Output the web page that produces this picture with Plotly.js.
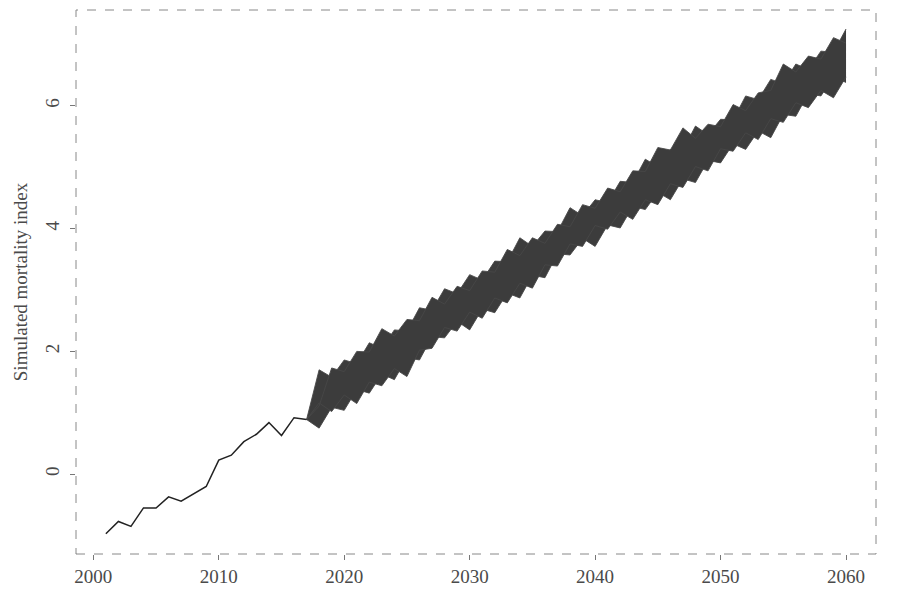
<!DOCTYPE html>
<html>
<head>
<meta charset="utf-8">
<script src="https://cdn.plot.ly/plotly-3.0.1.min.js"></script>
<style>
  html, body { margin: 0; padding: 0; background: #fff; }
  #chart { width: 900px; height: 596px; }
</style>
</head>
<body>
<div id="chart"></div>
<script>
// observed index, 2001-2017
var histYears = [2001, 2002, 2003, 2004, 2005, 2006, 2007, 2008, 2009, 2010, 2011, 2012, 2013, 2014, 2015, 2016, 2017];
var histIndex = [-0.97, -0.77, -0.85, -0.55, -0.55, -0.37, -0.44, -0.32, -0.20, 0.23, 0.31, 0.53, 0.65, 0.84, 0.63, 0.92, 0.89];

// simulated paths 2017-2060: the outermost strands of the bundle,
// two on top and two below, zig-zagging out of step with each other
var simYears = [2017, 2018, 2019, 2020, 2021, 2022, 2023, 2024, 2025, 2026, 2027, 2028, 2029, 2030, 2031,
  2032, 2033, 2034, 2035, 2036, 2037, 2038, 2039, 2040, 2041, 2042, 2043, 2044, 2045, 2046,
  2047, 2048, 2049, 2050, 2051, 2052, 2053, 2054, 2055, 2056, 2057, 2058, 2059, 2060];
var upperA = [0.89, 1.70, 1.58, 1.86, 1.80, 2.14, 2.05, 2.35, 2.33, 2.71, 2.67, 3.02, 2.94, 3.25, 3.16,
  3.47, 3.46, 3.85, 3.71, 3.96, 3.95, 4.34, 4.21, 4.47, 4.42, 4.77, 4.75, 5.13, 5.01, 5.29,
  5.28, 5.67, 5.53, 5.78, 5.77, 6.16, 6.10, 6.43, 6.36, 6.68, 6.59, 6.89, 6.87, 7.25];
var upperB = [0.89, 1.11, 1.73, 1.67, 2.00, 1.99, 2.37, 2.25, 2.52, 2.50, 2.88, 2.77, 3.06, 2.99, 3.31,
  3.29, 3.66, 3.56, 3.85, 3.76, 4.07, 4.03, 4.39, 4.33, 4.66, 4.60, 4.94, 4.93, 5.32, 5.28,
  5.64, 5.47, 5.70, 5.66, 6.02, 5.92, 6.21, 6.25, 6.68, 6.55, 6.81, 6.76, 7.11, 7.02];
var lowerA = [0.89, 0.75, 1.09, 1.04, 1.38, 1.32, 1.63, 1.54, 1.90, 1.86, 2.24, 2.22, 2.49, 2.35, 2.69,
  2.63, 2.95, 2.87, 3.24, 3.20, 3.59, 3.57, 3.84, 3.71, 4.06, 4.01, 4.36, 4.31, 4.59, 4.47,
  4.81, 4.75, 5.11, 5.07, 5.38, 5.29, 5.59, 5.48, 5.86, 5.83, 6.20, 6.16, 6.47, 6.38];
var lowerB = [0.89, 1.16, 1.02, 1.29, 1.15, 1.50, 1.44, 1.72, 1.59, 2.02, 2.05, 2.39, 2.33, 2.64, 2.54,
  2.87, 2.79, 3.11, 3.03, 3.41, 3.39, 3.75, 3.71, 4.05, 3.99, 4.27, 4.15, 4.47, 4.39, 4.73,
  4.67, 5.01, 4.94, 5.30, 5.26, 5.56, 5.45, 5.79, 5.73, 6.05, 5.97, 6.25, 6.13, 6.47];

var xTicks = [2000, 2010, 2020, 2030, 2040, 2050, 2060];
var yTicks = [0, 2, 4, 6];

var serif = "Liberation Serif, Times New Roman, serif";
var txt = "#4a4a4a";
var core = "#3c3c3c";
var strand = { color: "#474747", width: 0.9 };

function path(y, fill) {
  var t = {
    x: simYears, y: y,
    mode: "lines", type: "scatter",
    line: strand,
    hoverinfo: "skip", showlegend: false
  };
  if (fill) { t.fill = "tonexty"; t.fillcolor = core; }
  return t;
}

var hist = {
  x: histYears, y: histIndex,
  mode: "lines", type: "scatter",
  line: { color: "#222222", width: 1.5 },
  showlegend: false
};

var layout = {
  width: 900, height: 596,
  margin: { l: 76, r: 24, t: 10, b: 42 },
  paper_bgcolor: "#ffffff", plot_bgcolor: "#ffffff",
  font: { family: serif, color: txt, size: 19 },
  xaxis: {
    range: [1998.62, 2062.39],
    tickvals: xTicks,
    ticks: "outside", ticklen: 5, tickwidth: 1, tickcolor: "#777",
    showgrid: false, zeroline: false, showline: false,
    tickfont: { family: serif, size: 19, color: txt }
  },
  yaxis: {
    range: [-1.30, 7.56],
    tickvals: yTicks,
    ticks: "outside", ticklen: 5, tickwidth: 1, tickcolor: "#777",
    tickangle: -90, ticklabelstandoff: 3,
    showgrid: false, zeroline: false, showline: false,
    tickfont: { family: serif, size: 19, color: txt },
    title: { text: "Simulated mortality index", font: { family: serif, size: 19, color: txt }, standoff: 9 }
  },
  shapes: [{
    type: "rect", xref: "paper", yref: "paper",
    x0: 0, x1: 1, y0: 0, y1: 1,
    line: { color: "#888", width: 1, dash: "dash" }
  }]
};

var traces = [path(lowerA, false), path(upperA, true), path(lowerB, false), path(upperB, true), hist];
Plotly.newPlot("chart", traces, layout, { displayModeBar: false, staticPlot: true });
</script>
</body>
</html>
